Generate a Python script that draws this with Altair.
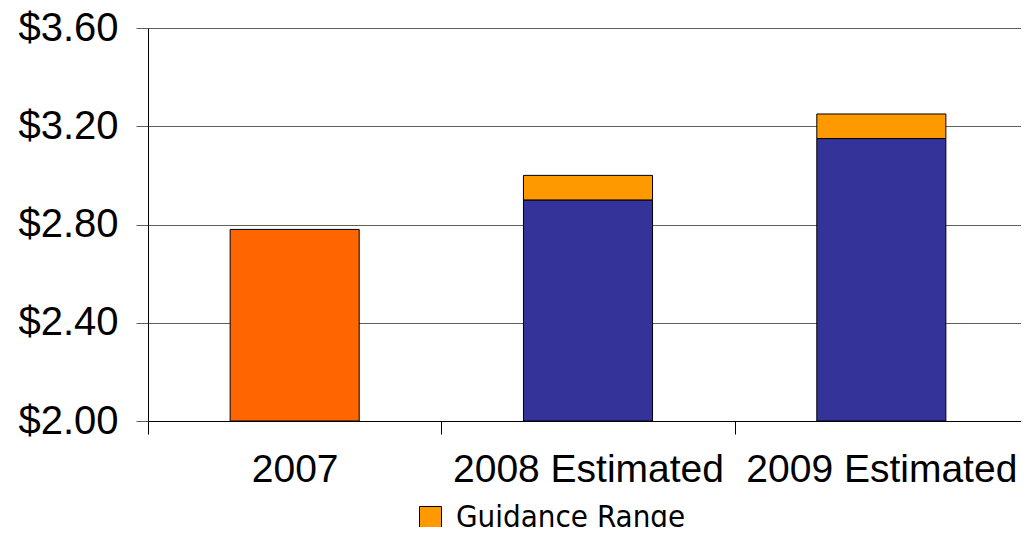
import altair as alt
import pandas as pd

categories = ["2007", "2008 Estimated", "2009 Estimated"]
point_values = [2.78, 2.90, 3.15]
range_high = [None, 3.00, 3.25]
y_ticks = [2.0, 2.4, 2.8, 3.2, 3.6]
legend_label = "Guidance Range"

df = pd.DataFrame({"category": categories, "value": point_values, "high": range_high})
guid = df.dropna(subset=["high"]).copy()
guid["series"] = legend_label

FONT = "Liberation Sans"
BAR_W = alt.RelativeBandSize(0.44)

x_enc = alt.X(
    "category:N",
    sort=categories,
    title=None,
    scale=alt.Scale(paddingInner=0, paddingOuter=0),
    axis=alt.Axis(
        labelAngle=0,
        tickBand="extent",
        labelFontSize=39,
        labelFont=FONT,
        labelColor="black",
        labelPadding=16,
        labelLimit=0,
        tickSize=13,
        tickColor="black",
        domainColor="black",
        labelBaseline="top",
        grid=False,
    ),
)

y_scale = alt.Scale(domain=[2.0, 3.6], nice=False, zero=False)

base = alt.Chart(df).mark_bar(stroke="black", strokeWidth=1, width=BAR_W).encode(
    x=x_enc,
    y=alt.Y(
        "value:Q",
        scale=y_scale,
        title=None,
        axis=alt.Axis(
            values=y_ticks,
            format="$.2f",
            labelFontSize=40,
            labelFont=FONT,
            labelColor="black",
            labelPadding=18,
            labelLimit=0,
            tickSize=12,
            tickColor="#606060",
            gridColor="#606060",
            domainColor="black",
            labelBaseline="middle",
        ),
    ),
    y2=alt.datum(2.0),
    color=alt.condition(alt.datum.category == "2007", alt.value("#FF6600"), alt.value("#333399")),
)

guidance = alt.Chart(guid).mark_bar(stroke="black", strokeWidth=1, width=BAR_W).encode(
    x=alt.X("category:N", sort=categories),
    y=alt.Y("value:Q", scale=y_scale),
    y2="high:Q",
    color=alt.Color(
        "series:N",
        scale=alt.Scale(range=["#FF9900"]),
        legend=alt.Legend(
            title=None,
            orient="none",
            legendX=267,
            legendY=474,
            padding=0,
            symbolType="square",
            symbolSize=484,
            symbolStrokeColor="black",
            symbolStrokeWidth=1,
            labelFontSize=31,
            labelFont="DejaVu Sans Condensed",
            labelColor="black",
            labelOffset=10,
            labelLimit=0,
        ),
    ),
)

chart = (
    alt.layer(base, guidance)
    .properties(
        width=880,
        height=393,
        autosize=alt.AutoSizeParams(type="none"),
        padding={"left": 140, "top": 20, "right": -7, "bottom": 106},
    )
    .configure_view(stroke=None)
    .configure_axis(domainWidth=1, tickWidth=1, gridWidth=1)
)

chart.save("out.html", embed_options={"renderer": "svg", "actions": False})
